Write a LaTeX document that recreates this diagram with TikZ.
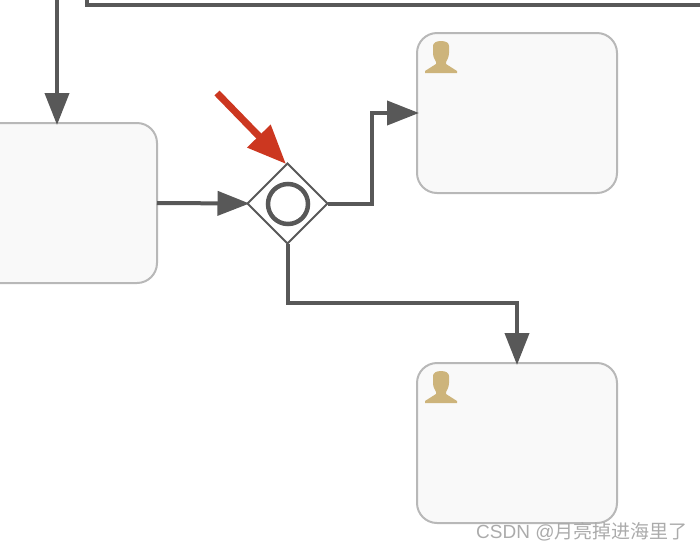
\documentclass[tikz,border=0pt]{standalone}
\usepackage{fontspec}
\setmainfont{Liberation Sans}
\newfontfamily\cjk{Noto Sans CJK SC}
\usetikzlibrary{arrows.meta,shapes.geometric}
\definecolor{flow}{HTML}{585858}
\definecolor{boxline}{HTML}{B8B8B8}
\definecolor{boxfill}{HTML}{F9F9F9}
\definecolor{usericon}{HTML}{CDB47B}
\definecolor{redarrow}{HTML}{CC3720}
\definecolor{mark}{HTML}{ABABAB}
\tikzset{
  taskbox/.style={draw=boxline,fill=boxfill,line width=2pt,rounded corners=20pt,minimum width=200pt,minimum height=160pt,inner sep=0pt,outer sep=0pt},
  gatewaybox/.style={diamond,draw=flow,fill=white,line width=1.8pt,minimum width=80pt,minimum height=80pt,inner sep=0pt,outer sep=0pt,aspect=1},
  flowline/.style={draw=flow,line width=4pt},
  flowarrow/.style={flowline,shorten >=-2pt,-{Triangle[length=32pt,width=24pt]}},
  usermark/.pic={\fill[usericon] (-8,-31) .. controls (-8,-34) and (-5,-36) .. (0,-36) .. controls (5,-36) and (8,-34) .. (8,-31) -- (8,-24) .. controls (8,-20) and (6,-17) .. (5,-15) -- (5,-13) -- (16,-6) -- (16,-4) -- (-16,-4) -- (-16,-6) -- (-5,-13) -- (-5,-15) .. controls (-6,-17) and (-8,-20) .. (-8,-24) -- cycle;}
}
\begin{document}
\begin{tikzpicture}[x=1pt,y=-1pt]
\useasboundingbox (0,0) rectangle (700,550);
\node[taskbox] (left) at (57,203) {};
\node[taskbox] (upper) at (517,113) {};
\node[taskbox] (lower) at (517,443) {};
\node[gatewaybox] (gate) at (287.5,203.5) {};
\node[circle,draw=flow,line width=4.5pt,minimum size=40pt,inner sep=0pt] (ring) at (288,204) {};
\coordinate (topstart) at (57,-6);
\coordinate (leftin) at (57,123);
\coordinate (linestart) at (87,-6);
\coordinate (linecorner) at (87,4.5);
\coordinate (lineend) at (706,4.5);
\coordinate (redstart) at (217,93);
\coordinate (redtip) at (286,164);
\pic at (441,77) {usermark};
\pic at (441,407) {usermark};
\draw[flowarrow] (topstart) -- (leftin);
\draw[flowline] (linestart) -- (linecorner) -- (lineend);
\draw[flowarrow] (left.east) -- (gate.west);
\draw[flowarrow] (gate.east) -| (372,113) -- (upper.west);
\draw[flowarrow] (gate.south) |- (517,303) -- (lower.north);
\draw[draw=redarrow,line width=7pt,-{Triangle[length=39pt,width=31pt]}] (redstart) -- (redtip);
\node[anchor=base west,inner sep=0pt,text=mark,font=\fontsize{19}{20}\selectfont] (wm) at (476,538) {CSDN @{\cjk 月亮掉进海里了}};
\end{tikzpicture}
\end{document}
